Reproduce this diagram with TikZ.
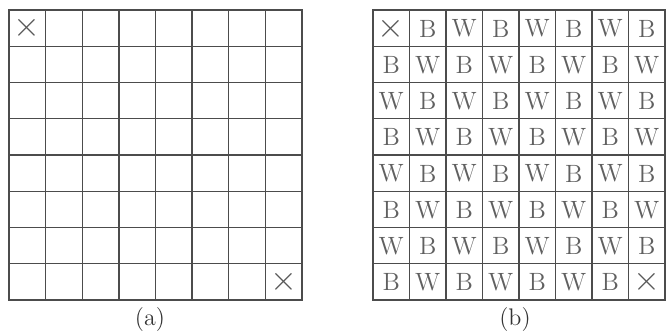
\documentclass[tikz,border=0pt]{standalone}
\usepackage{amsmath,amssymb}
\usepackage{xcolor}
\usetikzlibrary{positioning}

\begin{document}
\begin{tikzpicture}[x=0.5pt,y=-0.5pt,
  gridline/.style={gray!60!black,line width=0.65pt},
  frameline/.style={gray!60!black,line width=1.1pt},
  letter/.style={inner sep=0pt,text=gray!75!black,font=\fontsize{12.5}{14}\selectfont},
  cross/.style={inner sep=0pt,text=gray!70!black,font=\fontsize{16}{17}\selectfont},
  caption/.style={inner sep=0pt,text=gray!40!black,font=\fontsize{12}{14}\selectfont}]
\useasboundingbox (0,0) rectangle (668,333);
% grid (a)
\foreach \i in {1,...,7} {
  \draw[gridline] (9+36.625*\i,10)--(9+36.625*\i,300);
  \draw[gridline] (9,10+36.25*\i)--(302,10+36.25*\i);
}
\draw[frameline] (9,10) rectangle (302,300);
\node[cross] (a-x1) at (9+18.3,10+18.1) {$\times$};
\node[cross] (a-x2) at (302-18.3,300-18.1) {$\times$};
\node[caption] (cap-a) at (150,320) {(a)};
% grid (b)
\foreach \i in {1,...,7} {
  \draw[gridline] (373+36.5*\i,10)--(373+36.5*\i,300);
  \draw[gridline] (373,10+36.25*\i)--(665,10+36.25*\i);
}
\draw[frameline] (373,10) rectangle (665,300);
\foreach \r in {0,...,7} {
  \foreach \c in {0,...,7} {
    \pgfmathtruncatemacro{\sumrc}{\r+\c}
    \ifodd\sumrc
      \node[letter] (b-\r-\c) at (391.25+36.5*\c,28.6+36.25*\r) {B};
    \else\ifnum\sumrc=0\relax\else\ifnum\sumrc=14\relax\else
      \node[letter] (b-\r-\c) at (391.25+36.5*\c,28.6+36.25*\r) {W};
    \fi\fi\fi
  }
}
\node[cross] (b-x1) at (391.25,28.6) {$\times$};
\node[cross] (b-x2) at (391.25+36.5*7,28.6+36.25*7) {$\times$};
\node[caption] (cap-b) at (515,320) {(b)};
\end{tikzpicture}
\end{document}
